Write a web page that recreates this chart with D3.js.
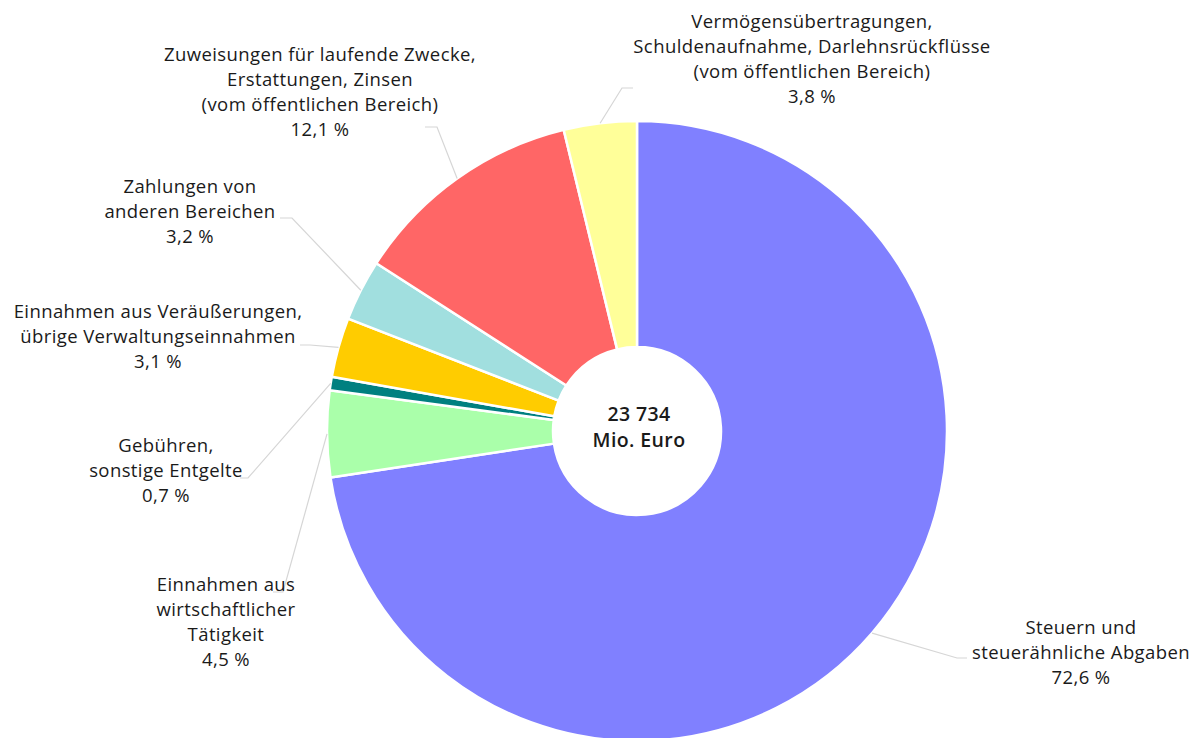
<!DOCTYPE html>
<html>
<head>
  <meta charset="utf-8">
  <style>
    body { margin: 0; background: #fff; }
    .lbl { font: 18.5px "Open Sans", sans-serif; letter-spacing: 0.4px; fill: #1a1a1a; }
    .center { font: 600 19.5px "Open Sans", sans-serif; letter-spacing: 0.4px; fill: #1a1a1a; }
  </style>
</head>
<body>
  <script src="https://cdn.jsdelivr.net/npm/d3@7/dist/d3.min.js"></script>
  <script>
    // data
    var categories = [
      ["Steuern und", "steuerähnliche Abgaben"],
      ["Einnahmen aus", "wirtschaftlicher", "Tätigkeit"],
      ["Gebühren,", "sonstige Entgelte"],
      ["Einnahmen aus Veräußerungen,", "übrige Verwaltungseinnahmen"],
      ["Zahlungen von", "anderen Bereichen"],
      ["Zuweisungen für laufende Zwecke,", "Erstattungen, Zinsen", "(vom öffentlichen Bereich)"],
      ["Vermögensübertragungen,", "Schuldenaufnahme, Darlehnsrückflüsse", "(vom öffentlichen Bereich)"]
    ];
    var shares = [72.6, 4.5, 0.7, 3.1, 3.2, 12.1, 3.8];
    var colors = ["#8080ff", "#aaffaa", "#008080", "#ffcc00", "#a1dfdf", "#ff6666", "#ffff99"];
    var totalText = ["23 734", "Mio. Euro"];

    // label placement (elbow x/y, line end x, text centre x, first line y)
    var labelLayout = [
      {ex: 957, ey: 658, hx: 967, tx: 1081, ty: 628},
      {ex: 283, ey: 592, hx: 273, tx: 226, ty: 585},
      {ex: 248, ey: 478, hx: 240, tx: 166, ty: 446},
      {ex: 310, ey: 345, hx: 300, tx: 158, ty: 312},
      {ex: 292, ey: 218, hx: 280, tx: 190, ty: 187},
      {ex: 437, ey: 127, hx: 425, tx: 320, ty: 55},
      {ex: 622, ey: 88,  hx: 633, tx: 812, ty: 22}
    ];

    var width = 1195, height = 738;
    var cx = 637, cy = 431, outerR = 310, innerR = 84, lineH = 24.8;

    var svg = d3.select("body").append("svg")
        .attr("width", width)
        .attr("height", height);

    var pie = d3.pie().sort(null).value(function(d) { return d; });
    var arc = d3.arc().innerRadius(innerR).outerRadius(outerR);
    var arcs = pie(shares);

    var g = svg.append("g")
        .attr("transform", "translate(" + cx + "," + cy + ")");

    g.selectAll("path.slice")
        .data(arcs)
      .enter().append("path")
        .attr("class", "slice")
        .attr("d", arc)
        .attr("fill", function(d, i) { return colors[i]; })
        .attr("stroke", "#fff")
        .attr("stroke-width", 2.5)
        .attr("stroke-linejoin", "round");

    // leader lines
    svg.selectAll("polyline.leader")
        .data(arcs)
      .enter().append("polyline")
        .attr("class", "leader")
        .attr("points", function(d, i) {
          var a = (d.startAngle + d.endAngle) / 2;
          var sx = cx + outerR * Math.sin(a), sy = cy - outerR * Math.cos(a);
          var L = labelLayout[i];
          return [sx, sy, L.ex, L.ey, L.hx, L.ey].join(",");
        })
        .attr("fill", "none")
        .attr("stroke", "#d6d6d6")
        .attr("stroke-width", 1.2);

    // labels
    var fmt = function(v) { return v.toFixed(1).replace(".", ",") + " %"; };
    arcs.forEach(function(d, i) {
      var L = labelLayout[i];
      var lines = categories[i].concat([fmt(shares[i])]);
      var t = svg.append("text")
          .attr("class", "lbl")
          .attr("text-anchor", "middle");
      lines.forEach(function(s, k) {
        t.append("tspan")
          .attr("x", L.tx)
          .attr("y", L.ty + k * lineH)
          .attr("dy", "0.35em")
          .text(s);
      });
    });

    // centre text
    var ct = svg.append("text")
        .attr("class", "center")
        .attr("text-anchor", "middle");
    totalText.forEach(function(s, k) {
      ct.append("tspan")
        .attr("x", cx + 2)
        .attr("y", 414 + k * 26)
        .attr("dy", "0.35em")
        .text(s);
    });
  </script>
</body>
</html>
